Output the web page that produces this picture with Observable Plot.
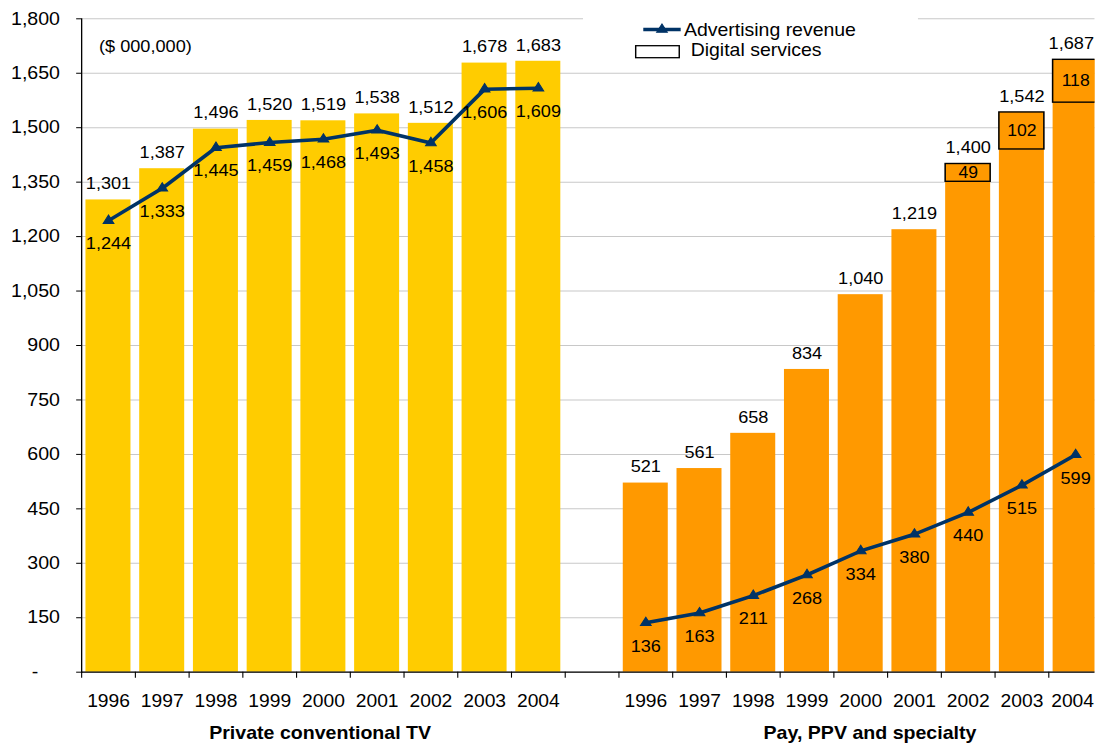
<!DOCTYPE html>
<html>
<head>
<meta charset="utf-8">
<script src="https://cdn.jsdelivr.net/npm/d3@7"></script>
<script src="https://cdn.jsdelivr.net/npm/@observablehq/plot@0.6"></script>
<style>
  html, body { margin: 0; padding: 0; background: #fff; }
  #wrap { position: relative; width: 995.45px; height: 744px; transform: scaleX(1.1); transform-origin: 0 0; }
  #legend { position: absolute; left: 0; top: 0; overflow: visible; }
</style>
</head>
<body>
<div id="wrap"></div>
<script>
// ---- data ----
const years = ["1996", "1997", "1998", "1999", "2000", "2001", "2002", "2003", "2004"];
const groups = ["Private conventional TV", "Pay, PPV and specialty"];
const conventionalTotal = [1301, 1387, 1496, 1520, 1519, 1538, 1512, 1678, 1683];
const conventionalAdvertising = [1244, 1333, 1445, 1459, 1468, 1493, 1458, 1606, 1609];
const payTotal = [521, 561, 658, 834, 1040, 1219, 1400, 1542, 1687];
const payAdvertising = [136, 163, 211, 268, 334, 380, 440, 515, 599];
const payDigital = [null, null, null, null, null, null, 49, 102, 118];
const yTicks = [0, 150, 300, 450, 600, 750, 900, 1050, 1200, 1350, 1500, 1650, 1800];
const unitsNote = "($ 000,000)";
const legendLabels = ["Advertising revenue", "Digital services"];

// ---- layout helpers ----
const STRETCH = 1.1;
const W = 1095 / STRETCH;
const axisLeft = 81.1 / STRETCH;
const bandEnd = 1102 / STRETCH;
const navy = "#003366";
const font = "'Liberation Sans', Arial, sans-serif";

const keys = [
  ...years.map(y => groups[0] + "|" + y),
  "gap",
  ...years.map(y => groups[1] + "|" + y)
];
const step = (bandEnd - axisLeft) / keys.length;
const inset = (step - 45 / STRETCH) / 2;

const rows = [
  ...years.map((y, i) => ({key: groups[0] + "|" + y, group: groups[0], total: conventionalTotal[i], adv: conventionalAdvertising[i], digital: null})),
  ...years.map((y, i) => ({key: groups[1] + "|" + y, group: groups[1], total: payTotal[i], adv: payAdvertising[i], digital: payDigital[i]}))
];
const digitalRows = rows.filter(d => d.digital != null);

const fmt = d3.format(",");
const yFmt = d => d === 0 ? "-\u00a0\u00a0\u00a0\u00a0" : fmt(d);
const xFmt = k => k === "gap" ? "" : k.split("|")[1];

const chart = Plot.plot({
  width: W,
  height: 744,
  marginLeft: axisLeft,
  marginRight: 0,
  marginTop: 18.3,
  marginBottom: 72.3,
  style: {fontFamily: font, fontSize: "16px", color: "#000", background: "#fff", overflow: "hidden"},
  x: {type: "band", domain: keys, range: [axisLeft, bandEnd], padding: 0, round: false},
  y: {domain: [0, 1800]},
  color: {domain: groups, range: ["#FFCC00", "#FF9900"]},
  marks: [
    Plot.gridY(yTicks, {stroke: "#c8c8c8", strokeOpacity: 1, strokeWidth: 1}),
    Plot.barY(rows, {x: "key", y: "total", fill: "group", insetLeft: inset, insetRight: inset}),
    Plot.barY(digitalRows, {x: "key", y1: d => d.total - d.digital, y2: "total", fill: "#FF9900", stroke: "#000", strokeWidth: 1.4, insetLeft: inset, insetRight: inset}),
    Plot.ruleY([0], {stroke: "#000", strokeWidth: 1.2}),
    Plot.frame({anchor: "left", stroke: "#000", strokeWidth: 1.2}),
    Plot.axisY({ticks: yTicks, tickFormat: yFmt, tickSize: 4.5, tickPadding: 15.2, fontSize: "17.8px", label: null}),
    Plot.axisX({tickSize: 6, tickFormat: () => "", dx: -step / 2, label: null}),
    Plot.axisX({tickSize: 0, tickPadding: 22, tickFormat: xFmt, fontSize: "17.5px", label: null}),
    Plot.text([groups[0]], {x: () => groups[0] + "|2000", frameAnchor: "bottom", dy: 61.5, dx: -3, text: d => d, fontWeight: "bold", fontSize: "17.8px", lineAnchor: "middle"}),
    Plot.text([groups[1]], {x: () => groups[1] + "|2000", frameAnchor: "bottom", dy: 61.5, dx: 8.4, text: d => d, fontWeight: "bold", fontSize: "17.8px", lineAnchor: "middle"}),
    Plot.text([unitsNote], {frameAnchor: "top-left", dx: 15.8, dy: 27.7, text: d => d, textAnchor: "start", lineAnchor: "middle", fontSize: "16.5px"}),
    Plot.line(rows, {x: "key", y: "adv", z: "group", stroke: navy, strokeWidth: 3.5}),
    Plot.dot(rows, {x: "key", y: "adv", symbol: "triangle", r: 3.6, fill: navy, stroke: navy, strokeWidth: 1}),
    Plot.text(rows, {x: "key", y: "total", text: d => fmt(d.total), dy: -16, lineAnchor: "middle", fontSize: "16.5px"}),
    Plot.text(rows, {x: "key", y: "adv", text: d => fmt(d.adv), dy: 23.5, lineAnchor: "middle", fontSize: "16.5px"}),
    Plot.text(digitalRows, {x: "key", y: d => d.total - d.digital / 2, text: d => fmt(d.digital), lineAnchor: "middle", fontSize: "16px"})
  ]
});

const wrap = document.getElementById("wrap");
wrap.appendChild(chart);

// keep texts inside the right edge of the picture (as the source chart does)
chart.querySelectorAll("text").forEach(t => {
  const r = t.getBoundingClientRect();
  const over = r.right - 1094;
  if (r.width > 0 && over > 0) {
    t.setAttribute("transform", (t.getAttribute("transform") || "") + ` translate(${-over / STRETCH},0)`);
  }
});

// ---- legend (drawn in the same stretched space) ----
const leg = d3.select(wrap).append("svg")
  .attr("id", "legend")
  .attr("width", W)
  .attr("height", 70)
  .style("font-family", font);
leg.append("rect").attr("x", 530).attr("y", 4).attr("width", 304.5).attr("height", 60).attr("fill", "#fff");
leg.append("line").attr("x1", 584.8).attr("x2", 618.8).attr("y1", 29.5).attr("y2", 29.5)
  .attr("stroke", navy).attr("stroke-width", 3.5);
leg.append("path").attr("transform", "translate(601.8,29.5)")
  .attr("d", d3.symbol(d3.symbolTriangle, Math.PI * 3.6 * 3.6)()).attr("fill", navy).attr("stroke", navy);
leg.append("text").attr("x", 621.8).attr("y", 36.5).attr("font-size", "17.7px").attr("fill", "#000").text(legendLabels[0]);
leg.append("rect").attr("x", 577.9).attr("y", 45.7).attr("width", 39.6).attr("height", 12)
  .attr("fill", "#fff").attr("stroke", "#000").attr("stroke-width", 1.3);
leg.append("text").attr("x", 627.9).attr("y", 56).attr("font-size", "17.7px").attr("fill", "#000").text(legendLabels[1]);
</script>
</body>
</html>
